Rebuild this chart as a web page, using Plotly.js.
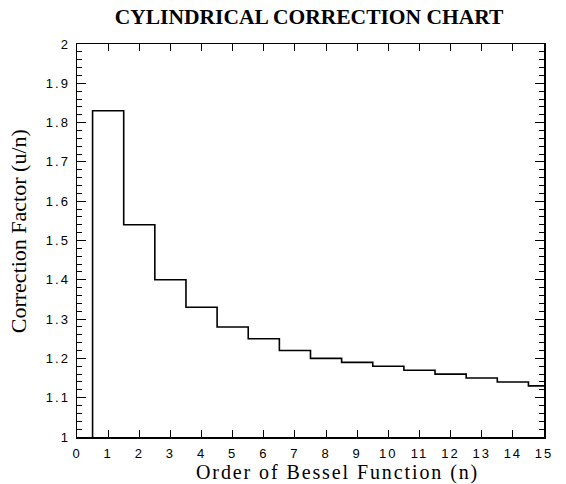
<!DOCTYPE html>
<html>
<head>
<meta charset="utf-8">
<script src="https://cdn.plot.ly/plotly-3.0.1.min.js"></script>
<style>
html,body{margin:0;padding:0;background:#fff}
#chart{width:566px;height:484px}
#chart .xtick text, #chart .ytick text{letter-spacing:2px}
</style>
</head>
<body>
<div id="chart"></div>
<script>
const orders = [1,2,3,4,5,6,7,8,9,10,11,12,13,14,15];
const factors = [1.83,1.54,1.40,1.33,1.28,1.25,1.22,1.20,1.19,1.18,1.17,1.16,1.15,1.14,1.13];
const xTickVals = [0,1,2,3,4,5,6,7,8,9,10,11,12,13,14,15];
const yTickVals = [1,1.1,1.2,1.3,1.4,1.5,1.6,1.7,1.8,1.9,2];
const yTickText = ['1','1.1','1.2','1.3','1.4','1.5','1.6','1.7','1.8','1.9','2'];
const titleText = 'CYLINDRICAL CORRECTION CHART';
const xTitleText = 'Order of Bessel Function (n)';
const yTitleText = 'Correction Factor (u/n)';

// step outline: rise at left edge of first step, then each step spans n-0.5..n+0.5
const xs = [orders[0]-0.5];
const ys = [1];
orders.forEach((n,i)=>{ xs.push(n-0.5); ys.push(factors[i]); });
xs.push(orders[orders.length-1]); ys.push(factors[factors.length-1]);

const serif = 'Liberation Serif, Times New Roman, serif';
const axisCommon = {
  showgrid:false, zeroline:false, showline:true, linecolor:'#000', linewidth:1.5,
  mirror:'allticks', ticks:'inside', tickcolor:'#000', tickwidth:1,
  tickfont:{family:'Liberation Sans, Arial, sans-serif', size:13, color:'#000'}
};

const layout = {
  width:566, height:484,
  margin:{l:77, r:22, t:44, b:47},
  paper_bgcolor:'#fff', plot_bgcolor:'#fff',
  showlegend:false,
  title:{text:'<b>'+titleText+'</b>', x:0.546, xanchor:'center', y:0.965, yanchor:'middle',
         font:{family:serif, size:21.5, color:'#000'}},
  xaxis:Object.assign({}, axisCommon, {
    range:[0,15], tickmode:'array', tickvals:xTickVals, ticklen:7, ticklabelstandoff:4
  }),
  yaxis:Object.assign({}, axisCommon, {
    range:[1,2], tickmode:'array', tickvals:yTickVals, ticktext:yTickText, ticklen:9, ticklabelstandoff:3,
    minor:{dtick:0.02, ticks:'inside', ticklen:5, tickcolor:'#000', tickwidth:1, showgrid:false}
  }),
  annotations:[
    {text:'<span style="letter-spacing:1.9px">'+xTitleText+'</span>', xref:'paper', yref:'paper',
     x:0.557, y:-0.09, xanchor:'center', yanchor:'middle', showarrow:false,
     font:{family:serif, size:20, color:'#000'}},
    {text:yTitleText, xref:'paper', yref:'paper', textangle:-90,
     x:-0.126, y:0.524, xanchor:'center', yanchor:'middle', showarrow:false,
     font:{family:serif, size:22, color:'#000'}}
  ]
};

Plotly.newPlot('chart', [{
  x: xs, y: ys, type:'scatter', mode:'lines',
  line:{shape:'hv', color:'#000', width:1.6},
  hoverinfo:'skip'
}], layout, {staticPlot:true});
</script>
</body>
</html>
